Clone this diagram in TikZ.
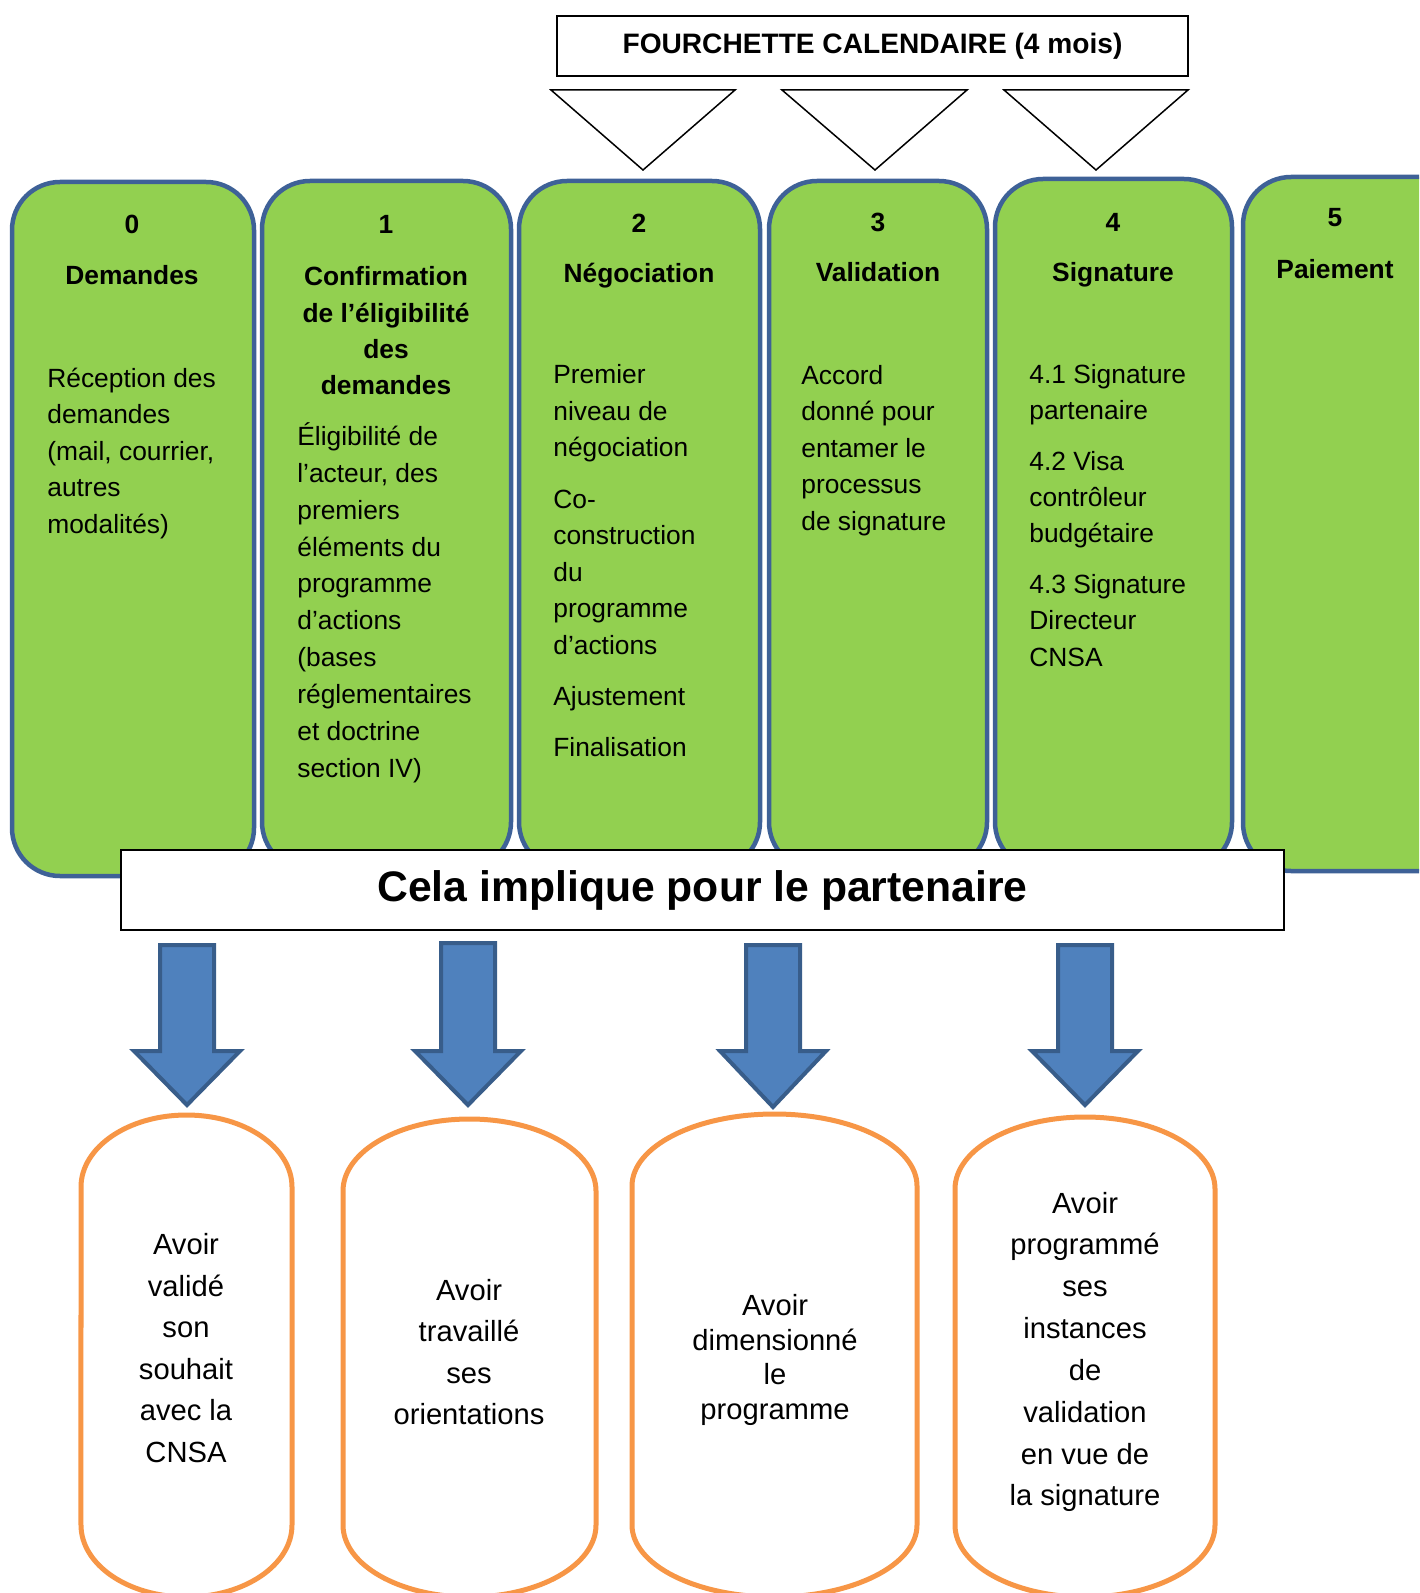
\documentclass[tikz,border=0pt]{standalone}
\usepackage{fontspec}
\setmainfont{Liberation Sans}
\definecolor{phasegreen}{HTML}{92D050}
\definecolor{phaseblue}{HTML}{3E6197}
\definecolor{arrowfill}{HTML}{4F81BD}
\definecolor{arrowline}{HTML}{385D8A}
\definecolor{resultorange}{HTML}{F79646}
\begin{document}
\begin{tikzpicture}[x=0.2mm,y=-0.2mm,
    phase/.style={draw=phaseblue,fill=phasegreen,line width=0.9mm,rounded corners=9.6mm},
    head/.style={font=\fontsize{15}{20.7}\selectfont\bfseries,align=center,inner sep=0pt,anchor=base},
    body/.style={font=\fontsize{15}{20.7}\selectfont,align=left,inner sep=0pt,anchor=base west},
    bigarrow/.style={draw=arrowline,fill=arrowfill,line width=0.8mm,line join=miter},
    result/.style={draw=resultorange,fill=white,line width=1mm},
    resulttext/.style={font=\fontsize{16.6}{23.6}\selectfont,align=center,inner sep=0pt}]
\clip (0,0) rectangle (1419,1593);
\node[draw,line width=0.4mm,minimum width=126.2mm,minimum height=12mm,inner sep=0pt,font=\fontsize{16}{18}\selectfont\bfseries] (fourchette) at (872.5,46) {FOURCHETTE CALENDAIRE (4 mois)};
\foreach \l/\m/\r in {551/643/735,782/875/967,1004/1096/1188}
    \draw[line width=0.3mm] (\l,90) -- (\r,90) -- (\m,170) -- cycle;
\foreach \l/\r/\t/\b in {12/254/182/876,262/511/181/870,519/760/181/870,769/987/181/870,995/1232/179/870,1243/1480/177/871}
    \draw[phase] (\l,\t) rectangle (\r,\b);
\node[head] (num0) at (132,234) {0};
\node[head] (num1) at (386,234) {1};
\node[head] (num2) at (639,233) {2};
\node[head] (num3) at (878,232) {3};
\node[head] (num4) at (1113,232) {4};
\node[head] (num5) at (1335,227) {5};
\node[head] (title0) at (132,285) {Demandes};
\node[head] (title1) at (386,395) {Confirmation\\de l’éligibilité\\des\\demandes};
\node[head] (title2) at (639,283) {Négociation};
\node[head] (title3) at (878,282) {Validation};
\node[head] (title4) at (1113,282) {Signature};
\node[head] (title5) at (1335,279) {Paiement};
\node[body] (text0) at (47,533) {Réception des\\demandes\\(mail, courrier,\\autres\\modalités)};
\node[body,font=\fontsize{15}{20.95}\selectfont] (text1) at (297,777) {Éligibilité de\\l’acteur, des\\premiers\\éléments du\\programme\\d’actions\\(bases\\réglementaires\\et doctrine\\section IV)};
\node[body,font=\fontsize{15}{20.85}\selectfont] (text2) at (553,756) {Premier\\niveau de\\négociation\\[8.2pt]Co-\\construction\\du\\programme\\d’actions\\[8pt]Ajustement\\[8pt]Finalisation};
\node[body] (text3) at (801,530) {Accord\\donné pour\\entamer le\\processus\\de signature};
\node[body] (text4) at (1029,666) {4.1 Signature\\partenaire\\[8pt]4.2 Visa\\contrôleur\\budgétaire\\[8pt]4.3 Signature\\Directeur\\CNSA};
\node[draw,fill=white,line width=0.4mm,minimum width=232.6mm,minimum height=16mm,inner sep=0pt,font=\fontsize{24.3}{28}\selectfont\bfseries] (implique) at (702.5,890) {Cela implique pour le partenaire};
\foreach \c/\t/\p in {187/945/1105,468/943/1105,773/945/1107,1085/945/1105}
    \draw[bigarrow] (\c-27,\t) -- (\c+27,\t) -- (\c+27,1051) -- (\c+53,1051) -- (\c,\p) -- (\c-53,1051) -- (\c-27,1051) -- cycle;
\foreach \l/\r/\t/\rx in {81/292/1115/21.1,343/596/1119/25.3,632/917/1114/28.5,955/1215/1117/26}
    \draw[result] (\l,\t+72) arc[start angle=180,end angle=0,x radius=\rx mm,y radius=14.4mm] -- (\r,1525) arc[start angle=0,end angle=-180,x radius=\rx mm,y radius=14.4mm] -- cycle;
\node[resulttext] (result1) at (186,1348) {Avoir\\validé\\son\\souhait\\avec la\\CNSA};
\node[resulttext] (result2) at (469,1352) {Avoir\\travaillé\\ses\\orientations};
\node[resulttext,font=\fontsize{16.6}{19.8}\selectfont] (result3) at (775,1360) {Avoir\\dimensionné\\le\\programme};
\node[resulttext,font=\fontsize{16.6}{23.8}\selectfont] (result4) at (1085,1352) {Avoir\\programmé\\ses\\instances\\de\\validation\\en vue de\\la signature};
\end{tikzpicture}
\end{document}
